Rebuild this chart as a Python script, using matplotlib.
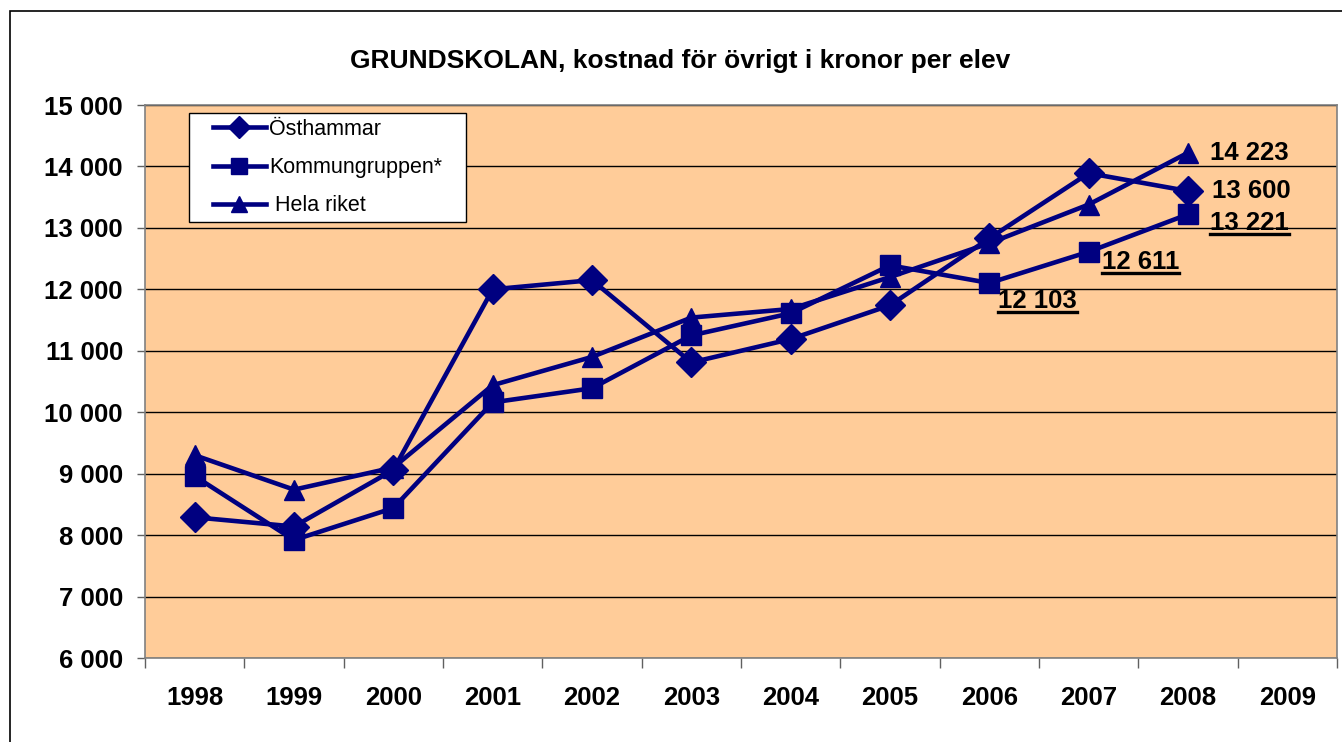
import matplotlib
matplotlib.use("Agg")
import matplotlib.pyplot as plt
from matplotlib.patches import Rectangle
from matplotlib.lines import Line2D

plt.rcParams['font.family'] = ['Liberation Sans', 'DejaVu Sans']

years = ["1998", "1999", "2000", "2001", "2002", "2003", "2004", "2005",
         "2006", "2007", "2008", "2009"]
osthammar = [8290, 8140, 9060, 12000, 12150, 10810, 11190, 11740, 12830, 13890, 13600]
kommungruppen = [8960, 7920, 8440, 10160, 10390, 11250, 11610, 12390, 12103, 12611, 13221]
hela_riket = [9300, 8740, 9100, 10440, 10900, 11540, 11680, 12200, 12750, 13380, 14223]
series_names = ["Östhammar", "Kommungruppen*", " Hela riket"]
yticks = [6000, 7000, 8000, 9000, 10000, 11000, 12000, 13000, 14000, 15000]
title = "GRUNDSKOLAN, kostnad för övrigt i kronor per elev"

def fmt(v):
    return f"{v:,}".replace(",", " ")

W, H = 1342, 742
fig = plt.figure(figsize=(W / 100, H / 100), dpi=100)
fig.patch.set_facecolor("white")
fig.patches.append(Rectangle((10 / W, -0.2), 2.0, 1.2 - 11 / H, transform=fig.transFigure,
                             fill=False, edgecolor="black", linewidth=1.2))

ax = fig.add_axes([145 / W, 1 - 658 / H, (1337 - 145) / W, (658 - 105) / H])
ax.set_facecolor("#FFCC99")
navy = "#000080"

x = list(range(len(osthammar)))
ax.plot(x, osthammar, color=navy, lw=3.3, marker="D", ms=15, zorder=3)
ax.plot(x, kommungruppen, color=navy, lw=3.3, marker="s", ms=14.5, zorder=3)
ax.plot(x, hela_riket, color=navy, lw=3.3, marker="^", ms=15, zorder=3)

ax.set_xlim(-0.5, len(years) - 0.5)
ax.set_ylim(6000, 15000)
ax.set_yticks(yticks)
ax.set_yticklabels([fmt(v) for v in yticks], fontsize=18.5, fontweight="bold")
ax.set_xticks(range(len(years)))
ax.set_xticklabels(years, fontsize=18.5, fontweight="bold")
ax.set_xticks([i - 0.5 for i in range(len(years) + 1)], minor=True)
ax.tick_params(axis="x", which="major", length=0, pad=20.5)
ax.tick_params(axis="x", which="minor", length=7, width=1, color="#606060", direction="out")
ax.tick_params(axis="y", length=6, width=1, color="#606060", pad=10)
ax.grid(axis="y", color="black", lw=1, zorder=1)
for s in ax.spines.values():
    s.set_color("#808080")
    s.set_linewidth(1.2)

fig.text(0.507, 1 - 61 / H, title, ha="center", va="center", fontsize=19, fontweight="bold")

# data labels
labels = [
    (10, hela_riket[10], 22, 0, False),
    (10, osthammar[10], 24, 0, False),
    (10, kommungruppen[10], 22, -9, True),
    (9, kommungruppen[9], 13, -10, True),
    (8, kommungruppen[8], 9, -18, True),
]
texts = []
for xi, v, dx, dy, ul in labels:
    t = ax.annotate(fmt(v), (xi, v), xytext=(dx * 0.72, dy * 0.72), textcoords="offset points",
                    ha="left", va="center", fontsize=18.5, fontweight="bold", zorder=5)
    texts.append((t, ul))

fig.canvas.draw()
r = fig.canvas.get_renderer()
for t, ul in texts:
    if ul:
        bb = t.get_window_extent(r)
        yline = bb.y0 + 1
        fig.add_artist(Line2D([bb.x0 / W, bb.x1 / W], [yline / H, yline / H],
                              transform=fig.transFigure, color="black", lw=2.4))

# legend frame (drawn manually) and legend entries
fig.add_artist(Rectangle((189 / W, 1 - 222 / H), (466 - 189) / W, (222 - 113) / H,
                         transform=fig.transFigure, facecolor="white", edgecolor="black",
                         lw=1.0, zorder=4))
handles = [
    Line2D([], [], color=navy, lw=3.3, marker="D", ms=11),
    Line2D([], [], color=navy, lw=3.3, marker="s", ms=11),
    Line2D([], [], color=navy, lw=3.3, marker="^", ms=12),
]
leg = fig.legend(handles, series_names, loc="upper left",
                 bbox_to_anchor=(213 / W, 1 - 119 / H),
                 fontsize=15.5, frameon=False, handlelength=2.45, handletextpad=0.15,
                 borderpad=0.0, labelspacing=0.8, borderaxespad=0)
leg.set_zorder(5)

fig.savefig("out.png", dpi=100)
